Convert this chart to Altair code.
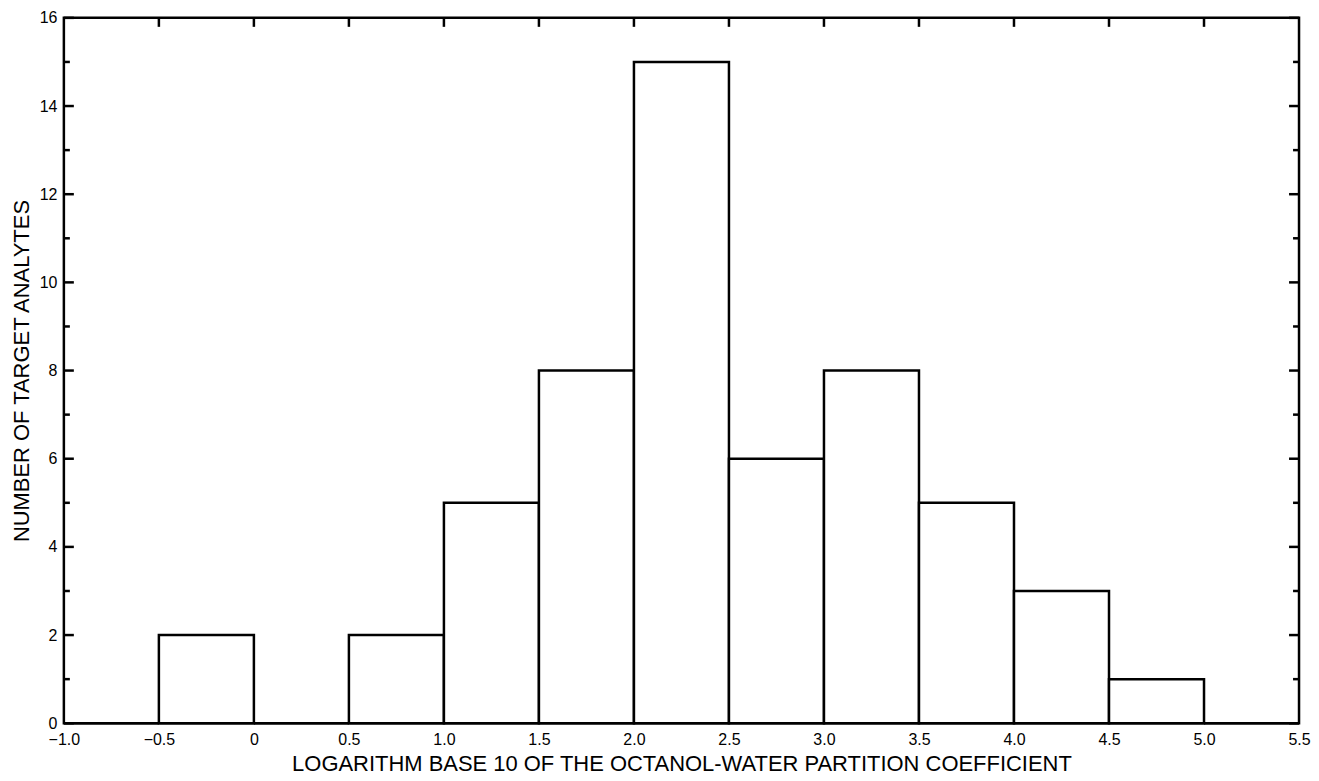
import altair as alt
import pandas as pd

bin_start = [-1.0, -0.5, 0.0, 0.5, 1.0, 1.5, 2.0, 2.5, 3.0, 3.5, 4.0, 4.5, 5.0]
bin_end = [-0.5, 0.0, 0.5, 1.0, 1.5, 2.0, 2.5, 3.0, 3.5, 4.0, 4.5, 5.0, 5.5]
counts = [0, 2, 0, 2, 5, 8, 15, 6, 8, 5, 3, 1, 0]

x_ticks = [-1.0, -0.5, 0.0, 0.5, 1.0, 1.5, 2.0, 2.5, 3.0, 3.5, 4.0, 4.5, 5.0, 5.5]
top_ticks = [-0.5, 0.0, 0.5, 1.0, 1.5, 2.0, 2.5, 3.0, 3.5, 4.0, 4.5, 5.0]
y_major = [0, 2, 4, 6, 8, 10, 12, 14, 16]
y_minor = [1, 3, 5, 7, 9, 11, 13, 15]

W, H = 1238, 707
FONT = "Liberation Sans"
XTITLE = "LOGARITHM BASE 10 OF THE OCTANOL-WATER PARTITION COEFFICIENT"
YTITLE = "NUMBER OF TARGET ANALYTES"
LW = 2.5

bars_df = pd.DataFrame({"x0": bin_start, "x1": bin_end, "n": counts})
xs = alt.Scale(domain=[-1.0, 5.5], nice=False, zero=False)
ys = alt.Scale(domain=[0, 16], nice=False)

ax_x = alt.Axis(
    values=x_ticks, ticks=False, domain=False, grid=False,
    labelExpr="datum.value == 0 ? '0' : format(datum.value, '.1f')",
    labelFont=FONT, labelFontSize=16, labelColor="black", labelPadding=8,
    titleFont=FONT, titleFontSize=22, titleFontWeight="normal", titleColor="black",
    titlePadding=6, labelFlush=False)
ax_y = alt.Axis(
    values=y_major, ticks=False, domain=False, grid=False,
    labelFont=FONT, labelFontSize=16, labelColor="black", labelPadding=7,
    titleFont=FONT, titleFontSize=22, titleFontWeight="normal", titleColor="black",
    titlePadding=6, labelFlush=False)

bars = alt.Chart(bars_df).mark_rect(fill="white", stroke="black", strokeWidth=LW).encode(
    x=alt.X("x0:Q", scale=xs, axis=ax_x, title=XTITLE),
    x2="x1:Q",
    y=alt.Y("n:Q", scale=ys, axis=ax_y, title=YTITLE),
    y2=alt.datum(0),
)

ymaj_df = pd.DataFrame({"v": y_major})
ymin_df = pd.DataFrame({"v": y_minor})
top_df = pd.DataFrame({"v": top_ticks})

def yrule(df, x, x2):
    return alt.Chart(df).mark_rule(color="black", strokeWidth=LW).encode(
        y=alt.Y("v:Q", scale=ys, axis=ax_y, title=YTITLE), x=alt.value(x), x2=alt.value(x2))

left_major = yrule(ymaj_df, 0, 10)
left_minor = yrule(ymin_df, 0, 6)
right_major = yrule(ymaj_df, W - 10, W)
right_minor = yrule(ymin_df, W - 6, W)
top = alt.Chart(top_df).mark_rule(color="black", strokeWidth=LW).encode(
    x=alt.X("v:Q", scale=xs, axis=ax_x, title=XTITLE), y=alt.value(0), y2=alt.value(9))

chart = alt.layer(bars, left_major, left_minor, right_major, right_minor, top).properties(
    width=W, height=H,
    autosize=alt.AutoSizeParams(type="none"),
    padding={"left": 56, "top": 9, "right": 12, "bottom": 53},
).configure(
    background="white",
    view=alt.ViewConfig(stroke="black", strokeWidth=LW),
)

chart.save("out.html", embed_options={"renderer": "svg", "actions": False})
